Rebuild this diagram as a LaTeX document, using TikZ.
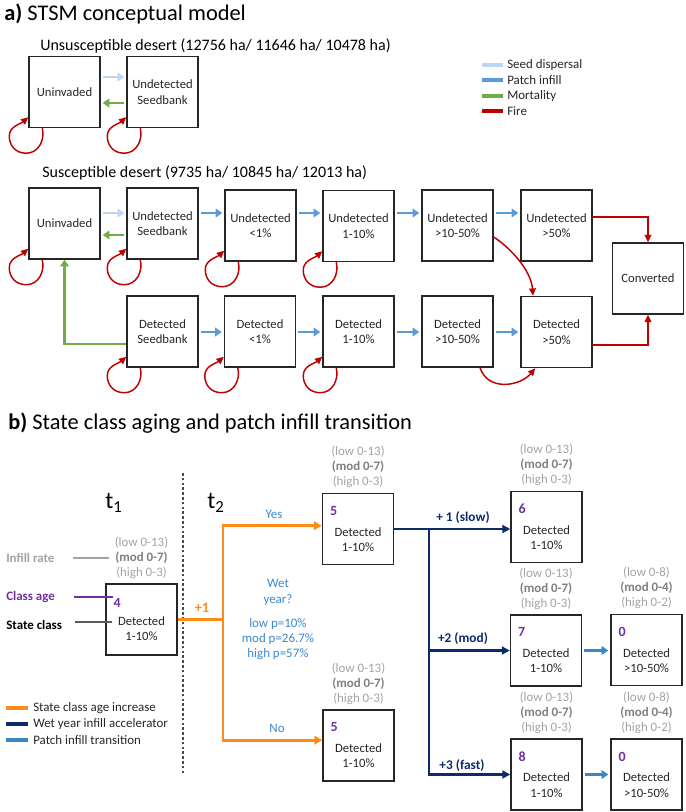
\documentclass[tikz,border=0pt]{standalone}
\usepackage{fontspec}
\setmainfont{Carlito}
\usetikzlibrary{arrows.meta}
\definecolor{seedc}{HTML}{BDD7EE}
\definecolor{patchc}{HTML}{5B9BD5}
\definecolor{mortc}{HTML}{70AD47}
\definecolor{firec}{HTML}{C00000}
\definecolor{agec}{HTML}{FF8C1A}
\definecolor{navyc}{HTML}{0D2A6B}
\definecolor{transc}{HTML}{3A87C8}
\definecolor{txtblue}{HTML}{3B87CF}
\definecolor{purp}{HTML}{7030A0}
\definecolor{lgray}{HTML}{A3A3A3}
\definecolor{dgray}{HTML}{7F7F7F}
\definecolor{boxc}{HTML}{262626}
\newcommand\agenum[1]{\makebox[42pt][l]{\fontsize{10.5}{12}\selectfont\bfseries\color{purp}#1}}
\newcommand\ratetext[3]{{\color{lgray}(low #1)}\\{\color{dgray}\bfseries (mod #2)}\\{\color{lgray}(high #3)}}
\newcommand\fireloop[1]{\draw[fire] ([shift={(14,0)}]#1.south west) .. controls +(3,12) and +(12,0) .. ([shift={(-2,25)}]#1.south west) .. controls +(-11,0) and +(0,9) .. ([shift={(-19,8)}]#1.south west) .. controls +(0,-10) and +(-8,7) .. ([shift={(0,-11)}]#1.south west);}
\tikzset{
 box/.style={draw=boxc, line width=1.1pt, minimum width=53.25pt, minimum height=53.25pt, align=center, inner sep=1pt, font=\fontsize{9.5}{11.5}\selectfont, text=boxc},
 txt/.style={inner sep=0pt, font=\fontsize{9.7}{11.25}\selectfont, text=boxc},
 rate/.style={txt, align=center, anchor=south},
 titl/.style={inner sep=0pt, anchor=west, font=\fontsize{16.8}{20}\selectfont, text=black},
 subt/.style={inner sep=0pt, anchor=west, font=\fontsize{12}{14}\selectfont, text=black},
 fire/.style={draw=firec, line width=1.1pt, -{Triangle[length=5.5pt,width=5pt]}},
 seedarr/.style={draw=seedc, line width=2.2pt, -{Triangle[length=5pt,width=6.5pt]}, shorten <=1.5pt, shorten >=1.5pt},
 patch/.style={draw=patchc, line width=2.2pt, -{Triangle[length=5pt,width=6.5pt]}, shorten <=1.5pt, shorten >=1.5pt},
 mort/.style={draw=mortc, line width=2.2pt, -{Triangle[length=5pt,width=6.5pt]}, shorten <=1.5pt, shorten >=1.5pt},
 mortL/.style={draw=mortc, line width=2.2pt, -{Triangle[length=5pt,width=6.5pt]}},
 agearr/.style={draw=agec, line width=2.2pt, -{Triangle[length=6pt,width=6.5pt]}},
 ageline/.style={draw=agec, line width=2.2pt},
 navyarr/.style={draw=navyc, line width=1.8pt, -{Triangle[length=6pt,width=6pt]}},
 transarr/.style={draw=transc, line width=2.2pt, -{Triangle[length=5pt,width=6.5pt]}, shorten <=1.5pt, shorten >=1.5pt},
 legline/.style={line width=3pt},
}
\begin{document}
\begin{tikzpicture}[x=0.75pt,y=-0.75pt]
\useasboundingbox (0,0) rectangle (685,812);
% ---------------- panel a ----------------
\node[titl] (ta) at (4,14) {\textbf{a)} STSM conceptual model};
\node[subt] (tu) at (40,46) {Unsusceptible desert (12756 ha/ 11646 ha/ 10478 ha)};
\node[subt] (ts) at (42,173) {Susceptible desert (9735 ha/ 10845 ha/ 12013 ha)};

% helper heights
\coordinate (h77) at (0,77);
\coordinate (h103) at (0,103);
\coordinate (h213) at (0,213);
\coordinate (h217) at (0,217);
\coordinate (h235) at (0,235);
\coordinate (h237) at (0,237);
\coordinate (h332) at (0,332);
\coordinate (h344) at (0,344);
\coordinate (h345) at (0,345);

% unsusceptible
\node[box] (u1) at (64.5,92) {Uninvaded};
\node[box] (s1) at (162.5,92) {Undetected\\Seedbank};
\draw[seedarr] (u1.east |- h77) -- (s1.west |- h77);
\draw[mort] (s1.west |- h103) -- (u1.east |- h103);
\fireloop{u1}
\fireloop{s1}

% legend a
\node[txt, anchor=west] (la1) at (507,65) {Seed dispersal};
\node[txt, anchor=west] (la2) at (507,80.5) {Patch infill};
\node[txt, anchor=west] (la3) at (507,96) {Mortality};
\node[txt, anchor=west] (la4) at (507,111) {Fire};
\draw[legline, seedc] ([xshift=-3pt]la1.west) -- ++(-21,0);
\draw[legline, patchc] ([xshift=-3pt]la2.west) -- ++(-21,0);
\draw[legline, mortc] ([xshift=-3pt]la3.west) -- ++(-21,0);
\draw[legline, firec] ([xshift=-3pt]la4.west) -- ++(-21,0);

% susceptible
\node[box] (A) at (64.5,223.5) {Uninvaded};
\node[box] (B) at (162.5,223.5) {Undetected\\Seedbank};
\node[box] (C) at (260.5,225.5) {Undetected\\<1\%};
\node[box] (D) at (358.5,226) {Undetected\\1-10\%};
\node[box] (E) at (457.5,225.5) {Undetected\\>10-50\%};
\node[box] (F) at (556.5,225.5) {Undetected\\>50\%};
\node[box] (G) at (648,278.5) {Converted};
\node[box] (H) at (162.5,331.5) {Detected\\Seedbank};
\node[box] (I) at (260,331.5) {Detected\\<1\%};
\node[box] (J) at (358.5,331.5) {Detected\\1-10\%};
\node[box] (K) at (457.5,331.5) {Detected\\>10-50\%};
\node[box] (L) at (556.5,332) {Detected\\>50\%};

\draw[seedarr] (A.east |- h213) -- (B.west |- h213);
\draw[mort] (B.west |- h235) -- (A.east |- h235);
\draw[patch] (B.east |- h213) -- (C.west |- h213);
\draw[patch] (C.east |- h213) -- (D.west |- h213);
\draw[patch] (D.east |- h213) -- (E.west |- h213);
\draw[patch] (E.east |- h213) -- (F.west |- h213);
\draw[patch] (H.east |- h332) -- (I.west |- h332);
\draw[patch] (I.east |- h332) -- (J.west |- h332);
\draw[patch] (J.east |- h332) -- (K.west |- h332);
\draw[patch] (K.east |- h332) -- (L.west |- h332);
\draw[mortL] (H.west |- h344) -| (A.south);
\draw[fire] (F.east |- h217) -| (G.north);
\draw[fire] (L.east |- h345) -| (G.south);
\draw[fire] (E.east |- h237) .. controls +(18,12) and +(-2,-25) .. ([xshift=-17.6pt]L.north);
\draw[fire] ([xshift=16.9pt]K.south) .. controls +(8,24) and +(-15,18) .. ([xshift=-16pt]L.south);
\fireloop{A}
\fireloop{B}
\fireloop{C}
\fireloop{D}
\fireloop{H}
\fireloop{I}
\fireloop{J}

% ---------------- panel b ----------------
\node[titl] (tb) at (8,423) {\textbf{b)} State class aging and patch infill transition};
\draw[draw=black!70, line width=0.8pt, dash pattern=on 2pt off 1.6pt] (183,473) -- (183,775);
\node[inner sep=0pt, font=\fontsize{18}{20}\selectfont] (tt1) at (114,503) {t\textsubscript{1}};
\node[inner sep=0pt, font=\fontsize{18}{20}\selectfont] (tt2) at (216,503) {t\textsubscript{2}};

\node[box] (T1) at (141.5,619.5) {\agenum{4}\\[2pt]Detected\\1-10\%};
\node[rate] (rT1) at ([yshift=3.5pt]T1.north) {\ratetext{0-13}{0-7}{0-3}};

\node[txt, anchor=west, text=lgray, font=\fontsize{9.7}{11.25}\selectfont\bfseries] (lir) at (6,558) {Infill rate};
\node[txt, anchor=west, text=purp, font=\fontsize{9.7}{11.25}\selectfont\bfseries] (lca) at (6,597) {Class age};
\node[txt, anchor=west, text=black, font=\fontsize{9.7}{11.25}\selectfont\bfseries] (lsc) at (6,625) {State class};
\coordinate (eir) at (109,558);
\coordinate (eca) at (113,597);
\coordinate (esc) at (112,622);
\draw[lgray, line width=0.8pt] (73,558) -- (eir);
\draw[purp, line width=0.8pt] (74,597) -- (eca);
\draw[black!65, line width=0.8pt] (75,622) -- (esc);

% middle boxes
\node[box] (Y5) at (358,529) {\agenum{5}\\[4pt]Detected\\1-10\%};
\node[rate] (rY5) at ([yshift=3.5pt]Y5.north) {\ratetext{0-13}{0-7}{0-3}};
\node[box] (N5) at (358.5,745.5) {\agenum{5}\\[4pt]Detected\\1-10\%};
\node[rate] (rN5) at ([yshift=3.5pt]N5.north) {\ratetext{0-13}{0-7}{0-3}};

% orange
\coordinate (oj) at (223,619.5);
\draw[ageline] (T1.east) -- (oj);
\draw[agearr] (oj) |- ([yshift=2.5pt]Y5.west);
\draw[agearr] (oj) |- ([yshift=4pt]N5.west);
\node[txt, text=agec, font=\fontsize{10.8}{12}\selectfont\bfseries] (p1) at (202,608) {+1};
\node[txt, text=txtblue] (yes) at (274,514) {Yes};
\node[txt, text=txtblue] (no) at (277,728) {No};
\node[txt, text=txtblue, align=center, font=\fontsize{9.7}{12}\selectfont] (wet) at (278,592) {Wet\\year?};
\node[txt, text=txtblue, align=center] (prob) at (278,639) {low p=10\%\\mod p=26.7\%\\high p=57\%};

% right boxes
\node[box] (B6) at (546.5,527) {\agenum{6}\\[4pt]Detected\\1-10\%};
\node[rate] (rB6) at ([yshift=3.5pt]B6.north) {\ratetext{0-13}{0-7}{0-3}};
\node[box] (B7) at (546,650.5) {\agenum{7}\\[4pt]Detected\\1-10\%};
\node[rate] (rB7) at ([yshift=3.5pt]B7.north) {\ratetext{0-13}{0-7}{0-3}};
\node[box] (Z1) at (646.5,650) {\agenum{0}\\[4pt]Detected\\>10-50\%};
\node[rate] (rZ1) at ([yshift=3.5pt]Z1.north) {\ratetext{0-8}{0-4}{0-2}};
\node[box] (B8) at (546.5,774.5) {\agenum{8}\\[4pt]Detected\\1-10\%};
\node[rate] (rB8) at ([yshift=3.5pt]B8.north) {\ratetext{0-13}{0-7}{0-3}};
\node[box] (Z2) at (646.5,774.5) {\agenum{0}\\[4pt]Detected\\>10-50\%};
\node[rate] (rZ2) at ([yshift=3.5pt]Z2.north) {\ratetext{0-8}{0-4}{0-2}};

% navy
\coordinate (nx) at (429,0);
\coordinate (nj) at (Y5.east -| nx);
\draw[navyarr] (Y5.east) -- (Y5.east -| B6.west);
\draw[navyarr] (nj) |- (B7.west);
\draw[navyarr] (nj) |- (B8.west);
\node[txt, text=navyc, font=\fontsize{10}{12}\selectfont\bfseries] (n1) at (463,518) {+ 1 (slow)};
\node[txt, text=navyc, font=\fontsize{10}{12}\selectfont\bfseries] (n2) at (463,639) {+2 (mod)};
\node[txt, text=navyc, font=\fontsize{10}{12}\selectfont\bfseries] (n3) at (462,766) {+3 (fast)};

\draw[transarr] (B7.east) -- (B7.east -| Z1.west);
\draw[transarr] (B8.east) -- (B8.east -| Z2.west);

% legend b
\node[txt, anchor=west] (lb1) at (33,708) {State class age increase};
\node[txt, anchor=west] (lb2) at (33,724) {Wet year infill accelerator};
\node[txt, anchor=west] (lb3) at (33,740) {Patch infill transition};
\draw[legline, agec] ([xshift=-3.5pt]lb1.west) -- ++(-22,0);
\draw[legline, navyc] ([xshift=-3.5pt]lb2.west) -- ++(-22,0);
\draw[legline, transc] ([xshift=-3.5pt]lb3.west) -- ++(-22,0);
\end{tikzpicture}
\end{document}
